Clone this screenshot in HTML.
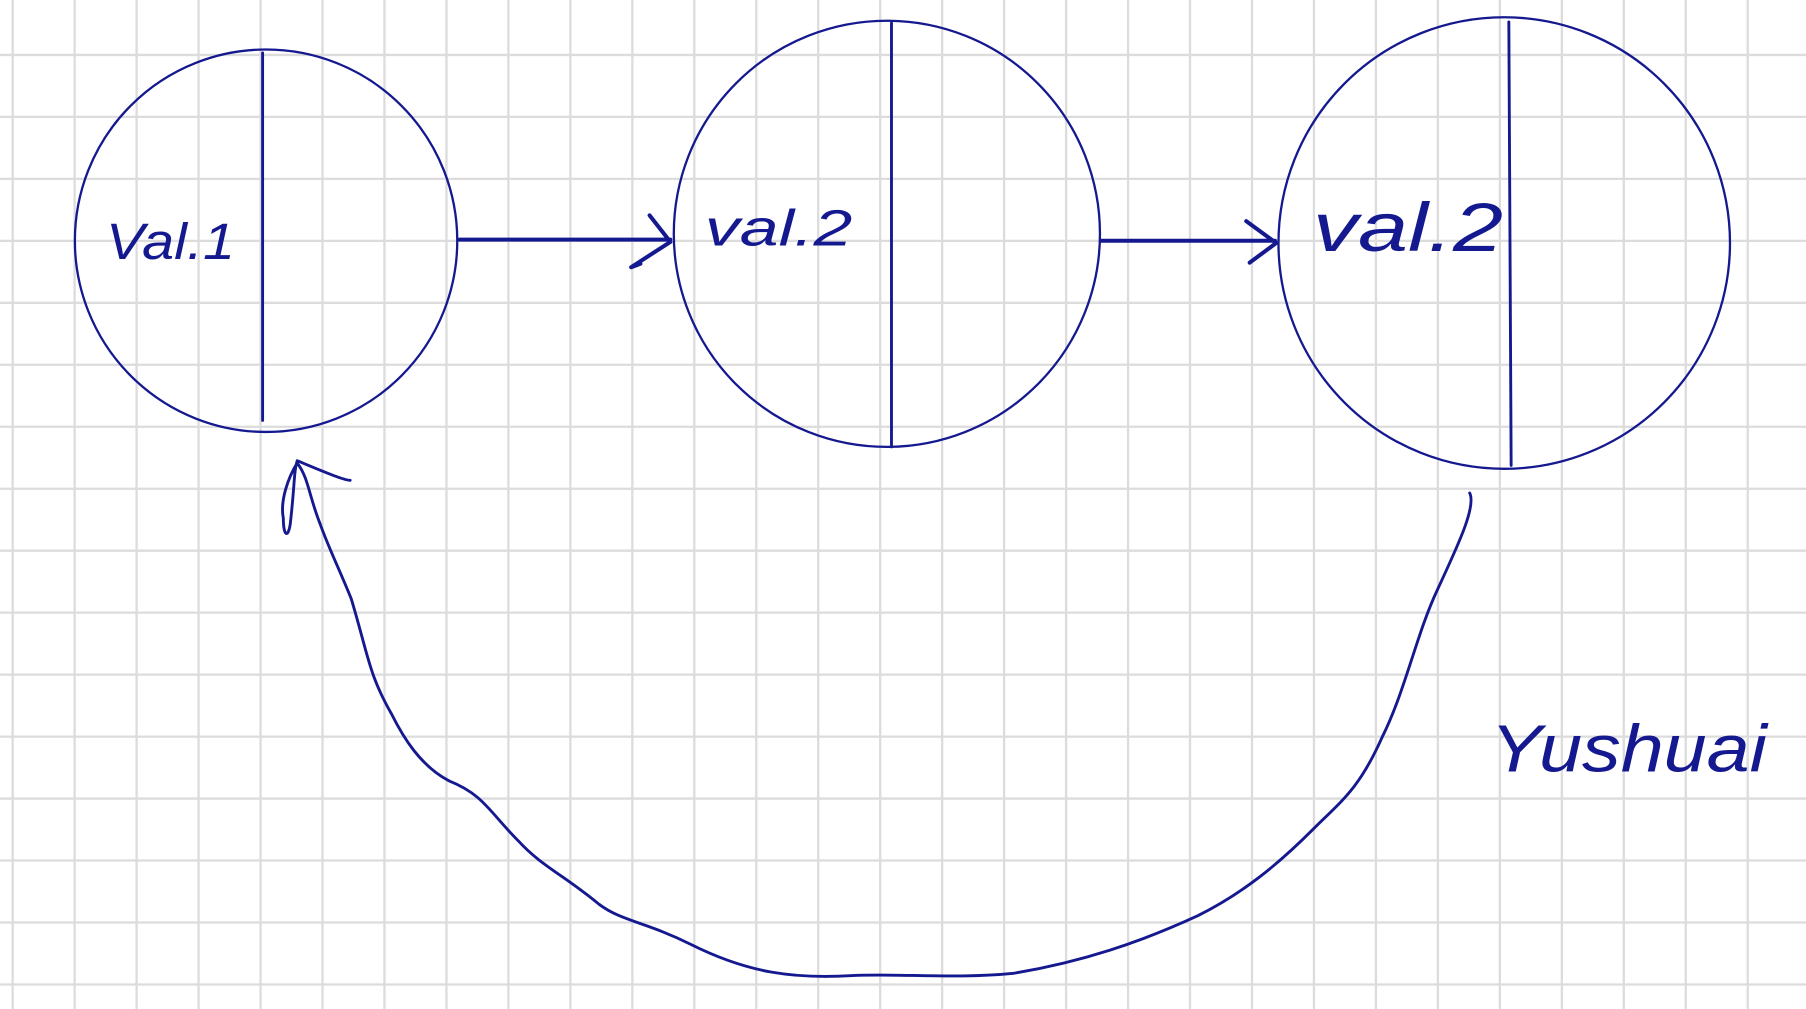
<!DOCTYPE html>
<html><head><style>html,body{margin:0;padding:0;background:#fff;}svg{display:block}</style></head>
<body>
<svg width="1806" height="1009" viewBox="0 0 1568 876" preserveAspectRatio="none" xmlns="http://www.w3.org/2000/svg">
<rect width="1568" height="876" fill="#fff"/>
<g stroke="#dcdcdc" stroke-width="2">
<line x1="11" y1="0" x2="11" y2="876"/><line x1="64.8" y1="0" x2="64.8" y2="876"/><line x1="118.6" y1="0" x2="118.6" y2="876"/><line x1="172.4" y1="0" x2="172.4" y2="876"/><line x1="226.2" y1="0" x2="226.2" y2="876"/><line x1="280" y1="0" x2="280" y2="876"/><line x1="333.8" y1="0" x2="333.8" y2="876"/><line x1="387.6" y1="0" x2="387.6" y2="876"/><line x1="441.4" y1="0" x2="441.4" y2="876"/><line x1="495.2" y1="0" x2="495.2" y2="876"/><line x1="549" y1="0" x2="549" y2="876"/><line x1="602.8" y1="0" x2="602.8" y2="876"/><line x1="656.6" y1="0" x2="656.6" y2="876"/><line x1="710.4" y1="0" x2="710.4" y2="876"/><line x1="764.2" y1="0" x2="764.2" y2="876"/><line x1="818" y1="0" x2="818" y2="876"/><line x1="871.8" y1="0" x2="871.8" y2="876"/><line x1="925.6" y1="0" x2="925.6" y2="876"/><line x1="979.4" y1="0" x2="979.4" y2="876"/><line x1="1033.2" y1="0" x2="1033.2" y2="876"/><line x1="1087" y1="0" x2="1087" y2="876"/><line x1="1140.8" y1="0" x2="1140.8" y2="876"/><line x1="1194.6" y1="0" x2="1194.6" y2="876"/><line x1="1248.4" y1="0" x2="1248.4" y2="876"/><line x1="1302.2" y1="0" x2="1302.2" y2="876"/><line x1="1356" y1="0" x2="1356" y2="876"/><line x1="1409.8" y1="0" x2="1409.8" y2="876"/><line x1="1463.6" y1="0" x2="1463.6" y2="876"/><line x1="1517.4" y1="0" x2="1517.4" y2="876"/>
<line x1="0" y1="47.7" x2="1568" y2="47.7"/><line x1="0" y1="101.5" x2="1568" y2="101.5"/><line x1="0" y1="155.3" x2="1568" y2="155.3"/><line x1="0" y1="209.1" x2="1568" y2="209.1"/><line x1="0" y1="262.9" x2="1568" y2="262.9"/><line x1="0" y1="316.7" x2="1568" y2="316.7"/><line x1="0" y1="370.5" x2="1568" y2="370.5"/><line x1="0" y1="424.3" x2="1568" y2="424.3"/><line x1="0" y1="478.1" x2="1568" y2="478.1"/><line x1="0" y1="531.9" x2="1568" y2="531.9"/><line x1="0" y1="585.7" x2="1568" y2="585.7"/><line x1="0" y1="639.5" x2="1568" y2="639.5"/><line x1="0" y1="693.3" x2="1568" y2="693.3"/><line x1="0" y1="747.1" x2="1568" y2="747.1"/><line x1="0" y1="800.9" x2="1568" y2="800.9"/><line x1="0" y1="854.7" x2="1568" y2="854.7"/>
</g>
<g fill="none" stroke="#15198f" stroke-linecap="round" stroke-linejoin="round">
<circle cx="231" cy="209" r="166" stroke-width="2"/>
<circle cx="770" cy="203" r="185" stroke-width="2"/>
<circle cx="1306" cy="211" r="196" stroke-width="2"/>
<line x1="228" y1="46" x2="228" y2="365" stroke-width="2.5"/>
<line x1="774" y1="20" x2="774" y2="388" stroke-width="2.5"/>
<line x1="1310" y1="19" x2="1312" y2="404" stroke-width="2.5"/>
<path d="M399 208 L582 208 M564 187 L582 210 L548 232 L556 229" stroke-width="3.5"/>
<path d="M956 209 L1107 209 M1082 192 L1108 211 L1085 228" stroke-width="3.5"/>
<path d="M1276 428 C1282 440 1265 475 1248 512 C1230 550 1220 600 1200 640 C1180 685 1165 695 1140 720 C1110 750 1080 775 1040 795 C990 818 940 835 880 845 C830 850 780 845 740 847 C690 850 650 845 600 820 C560 800 540 800 520 785 C490 760 470 752 450 730 C425 705 420 690 390 678 C365 665 350 640 340 620 C320 585 320 570 305 520 C295 495 285 475 278 455 C268 430 268 415 258 402 C250 415 243 435 246 450 C246 465 250 468 252 455 C256 420 255 410 258 400 C275 407 298 417 304 417" stroke-width="2.5"/>
</g>
<g fill="#15198f" font-family="Liberation Sans, sans-serif" font-style="italic">
<text x="92" y="225" font-size="44" textLength="112" lengthAdjust="spacingAndGlyphs">Val.1</text>
<text x="612" y="213" font-size="44" textLength="128" lengthAdjust="spacingAndGlyphs">val.2</text>
<text x="1140" y="218" font-size="60" textLength="165" lengthAdjust="spacingAndGlyphs">val.2</text>
<text x="1294" y="670" font-size="58" textLength="240" lengthAdjust="spacingAndGlyphs">Yushuai</text>
</g>
</svg>
</body></html>
